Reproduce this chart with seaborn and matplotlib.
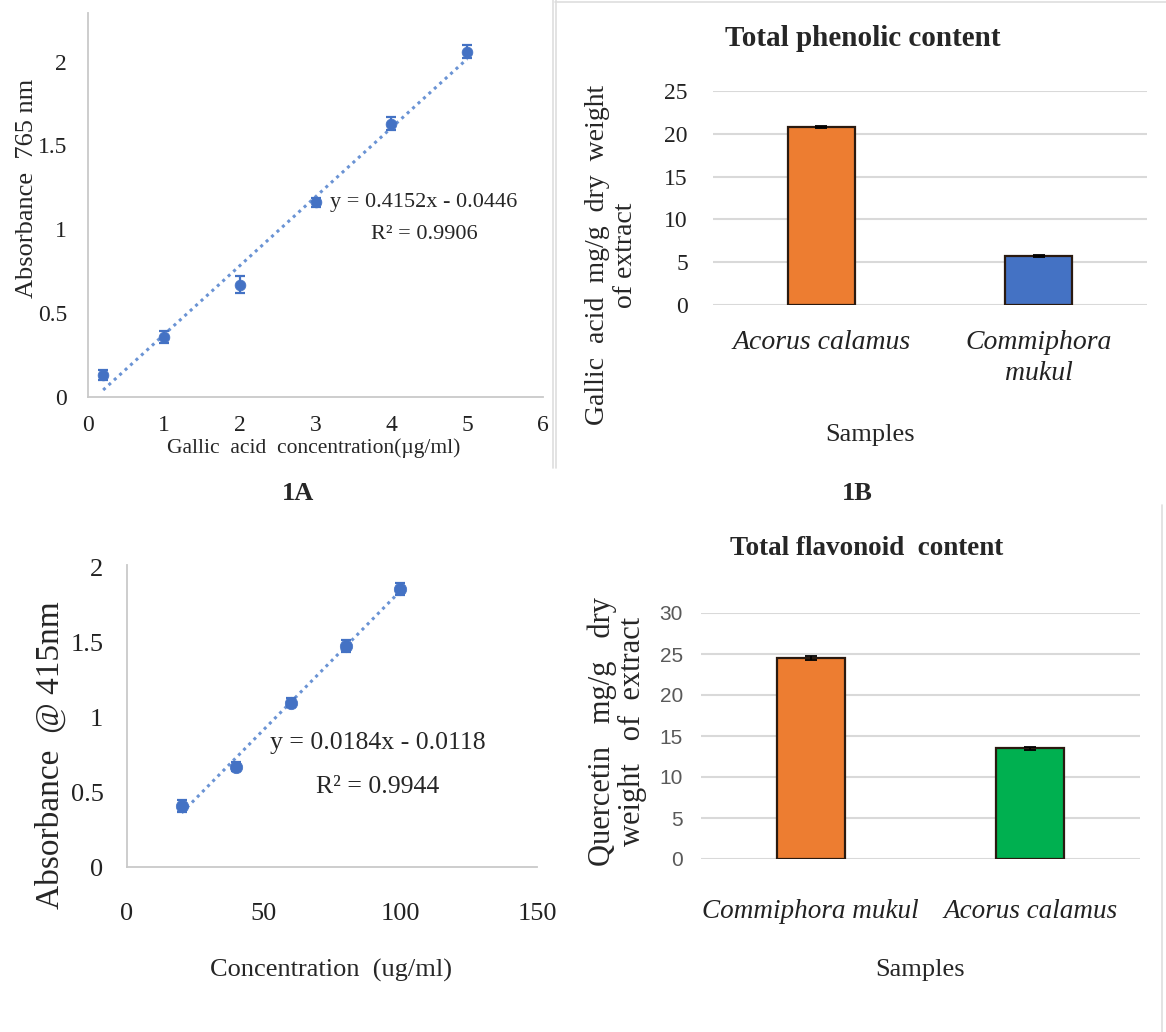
import numpy as np
import pandas as pd
import seaborn as sns
import matplotlib
matplotlib.use("Agg")
import matplotlib.pyplot as plt
from matplotlib.lines import Line2D
from matplotlib import font_manager

# 1A: gallic acid standard curve
gallic_conc = [0.2, 1, 2, 3, 4, 5]
gallic_abs = [0.13, 0.36, 0.67, 1.16, 1.63, 2.06]
gallic_err = [0.03, 0.035, 0.05, 0.025, 0.04, 0.04]

# 1B: total phenolic content
phenolic_samples = ["Acorus calamus", "Commiphora\nmukul"]
phenolic_values = [20.8, 5.7]
phenolic_err = [0.15, 0.1]
phenolic_colors = ["#ED7D31", "#4472C4"]

# quercetin standard curve
quercetin_conc = [20, 40, 60, 80, 100]
quercetin_abs = [0.41, 0.67, 1.10, 1.48, 1.86]
quercetin_err = [0.04, 0.03, 0.03, 0.04, 0.04]

# total flavonoid content
flavonoid_samples = ["Commiphora mukul", "Acorus calamus"]
flavonoid_values = [24.5, 13.5]
flavonoid_err = [0.25, 0.2]
flavonoid_colors = ["#ED7D31", "#00B050"]

sns.set_style("white")
plt.rcParams["font.family"] = ["Liberation Serif", "DejaVu Serif"]

installed = {f.name for f in font_manager.fontManager.ttflist}
narrow = "Liberation Sans Narrow" if "Liberation Sans Narrow" in installed else "Liberation Sans"

W, H = 1166, 1032
fig = plt.figure(figsize=(W / 100, H / 100), dpi=100)


def place(x0, x1, ybot, ytop):
    # pixel box -> figure fraction
    return [x0 / W, 1 - ybot / H, (x1 - x0) / W, (ybot - ytop) / H]


ax1 = fig.add_axes(place(88, 543, 397, 13))
ax2 = fig.add_axes(place(713, 1147, 305, 91))
ax3 = fig.add_axes(place(127, 537, 867, 565))
ax4 = fig.add_axes(place(701, 1140, 859, 613))

blue = "#4472C4"


def std_curve(ax, x, y, err, msize):
    df = pd.DataFrame({"x": x, "y": y})
    sns.regplot(data=df, x="x", y="y", ax=ax, scatter=False, ci=None, truncate=True,
                line_kws=dict(color="#6a93d4", ls=(0, (1, 1.4)), lw=2.2))
    ax.errorbar(x, y, yerr=err, fmt="none", ecolor=blue, elinewidth=1.6, capsize=3.5, capthick=1.6)
    sns.scatterplot(data=df, x="x", y="y", ax=ax, color=blue, s=msize, edgecolor=blue,
                    linewidth=0.5, zorder=3)
    for s in ["top", "right"]:
        ax.spines[s].set_visible(False)
    for s in ["left", "bottom"]:
        ax.spines[s].set_color("#c9c9c9")
        ax.spines[s].set_linewidth(1.3)
    ax.tick_params(length=0)


# ---- 1A ----
std_curve(ax1, gallic_conc, gallic_abs, gallic_err, 60)
ax1.set_xlim(0, 6)
ax1.set_ylim(0, 2.29)
ax1.set_xticks(range(0, 7))
ax1.set_yticks([0, 0.5, 1, 1.5, 2])
ax1.set_yticklabels(["0", "0.5", "1", "1.5", "2"])
ax1.tick_params(axis="y", pad=15, labelsize=17, labelcolor="#222222")
ax1.tick_params(axis="x", pad=13, labelsize=17, labelcolor="#222222")
ax1.set_ylabel("Absorbance  765 nm", fontsize=19, va="center")
ax1.yaxis.set_label_coords(-0.134, 0.544)
ax1.set_xlabel("Gallic  acid  concentration(\u00b5g/ml)", fontsize=15.5, va="center")
ax1.xaxis.set_label_coords(0.497, -0.132)
ax1.text(4.43, 1.16, "y = 0.4152x - 0.0446", fontsize=16, ha="center", va="center")
ax1.text(4.43, 0.967, "R\u00b2 = 0.9906", fontsize=16, ha="center", va="center")


def bar_panel(ax, cats, vals, err, colors, ymax, ystep):
    df = pd.DataFrame({"sample": cats, "value": vals})
    sns.barplot(data=df, x="sample", y="value", hue="sample", palette=colors, legend=False,
                ax=ax, width=0.31, edgecolor="#2a1a10", linewidth=1.6, saturation=1)
    ax.errorbar(range(len(vals)), vals, yerr=err, fmt="none", ecolor="black",
                elinewidth=1.3, capsize=4, capthick=1.3)
    ax.set_xlim(-0.5, len(vals) - 0.5)
    ax.set_ylim(0, ymax)
    ax.set_yticks(np.arange(0, ymax + 1, ystep))
    ax.yaxis.grid(True, color="#d9d9d9", lw=1.5)
    ax.set_axisbelow(True)
    sns.despine(ax=ax, left=True, bottom=True)
    ax.tick_params(length=0)
    for lab in ax.get_xticklabels():
        lab.set_fontstyle("italic")


# ---- 1B ----
bar_panel(ax2, phenolic_samples, phenolic_values, phenolic_err, phenolic_colors, 25, 5)
ax2.tick_params(axis="y", pad=18, labelsize=17, labelcolor="#222222")
ax2.tick_params(axis="x", pad=18, labelsize=20, labelcolor="#222222")
for lab in ax2.get_xticklabels():
    lab.set_linespacing(1.3)
ax2.set_title("Total phenolic content", fontsize=21, fontweight="bold", x=0.346, y=1.17)
ax2.set_ylabel("Gallic  acid  mg/g  dry  weight\nof extract", fontsize=20, va="center",
               linespacing=1.15)
ax2.yaxis.set_label_coords(-0.234, 0.234)
ax2.set_xlabel("Samples", fontsize=19, va="center")
ax2.xaxis.set_label_coords(0.362, -0.607)

# ---- quercetin curve ----
std_curve(ax3, quercetin_conc, quercetin_abs, quercetin_err, 80)
ax3.set_xlim(0, 150)
ax3.set_ylim(0, 2.02)
ax3.set_xticks([0, 50, 100, 150])
ax3.set_yticks([0, 0.5, 1, 1.5, 2])
ax3.set_yticklabels(["0", "0.5", "1", "1.5", "2"])
ax3.tick_params(axis="y", pad=17, labelsize=19, labelcolor="#222222")
ax3.tick_params(axis="x", pad=26, labelsize=19, labelcolor="#222222")
ax3.set_ylabel("Absorbance  @ 415nm", fontsize=24, va="center")
ax3.yaxis.set_label_coords(-0.188, 0.371)
ax3.set_xlabel("Concentration  (ug/ml)", fontsize=19, va="center")
ax3.xaxis.set_label_coords(0.498, -0.341)
ax3.text(91.8, 0.83, "y = 0.0184x - 0.0118", fontsize=18.5, ha="center", va="center")
ax3.text(91.8, 0.535, "R\u00b2 = 0.9944", fontsize=18.5, ha="center", va="center")

# ---- total flavonoid ----
bar_panel(ax4, flavonoid_samples, flavonoid_values, flavonoid_err, flavonoid_colors, 30, 5)
ax4.tick_params(axis="y", pad=13, labelsize=15, labelcolor="#595959")
for lab in ax4.get_yticklabels():
    lab.set_family(narrow)
ax4.tick_params(axis="x", pad=29, labelsize=19.5, labelcolor="#222222")
ax4.set_title("Total flavonoid  content", fontsize=19.5, fontweight="bold", x=0.378, y=1.2)
ax4.set_ylabel("Quercetin   mg/g   dry\nweight   of  extract", fontsize=22, va="center",
               linespacing=1.05)
ax4.yaxis.set_label_coords(-0.191, 0.52)
ax4.set_xlabel("Samples", fontsize=19, va="center")
ax4.xaxis.set_label_coords(0.5, -0.451)

# panel labels
fig.text(298 / W, 1 - 493 / H, "1A", fontsize=19, fontweight="bold", ha="center", va="center")
fig.text(857 / W, 1 - 493 / H, "1B", fontsize=19, fontweight="bold", ha="center", va="center")

# faint frame lines of the pasted images
for (x0, y0, x1, y1) in [(553, 0, 553, 468), (555, 2, 1166, 2), (556, 0, 556, 468),
                         (1162, 505, 1162, 1032)]:
    fig.add_artist(Line2D([x0 / W, x1 / W], [1 - y0 / H, 1 - y1 / H],
                          transform=fig.transFigure, color="#dedede", lw=1.2))

fig.savefig("out.png", dpi=100)
